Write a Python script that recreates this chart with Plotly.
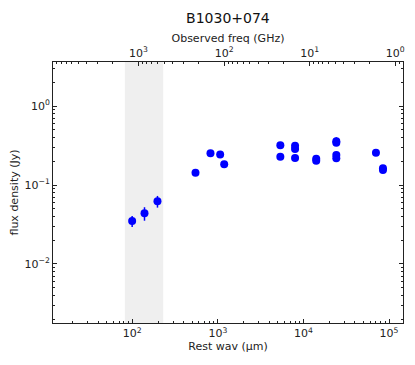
import numpy as np
import plotly.graph_objects as go

# source and band
SOURCE = "B1030+074"
REDSHIFT = 1.535
BAND_WAV = [82, 230]  # rest-frame shaded range (um)

# rest wavelength (um), flux density (Jy), errors (Jy)
rest_wav = [99.7, 139, 197, 548, 820, 1064, 1186,
            5370, 5370, 7980, 7980, 7980, 14100, 14100,
            24200, 24200, 24200, 24200, 70300, 84900, 84900]
flux = [0.035, 0.0438, 0.0622, 0.143, 0.252, 0.244, 0.183,
        0.318, 0.228, 0.315, 0.286, 0.219, 0.215, 0.203,
        0.357, 0.343, 0.240, 0.218, 0.256, 0.163, 0.155]
flux_err = [0.0055, 0.0085, 0.0105, 0.004, 0.008, 0.006, 0.005,
            0.006, 0.005, 0.006, 0.006, 0.005, 0.006, 0.006,
            0.045, 0.02, 0.01, 0.008, 0.006, 0.006, 0.006]

X_RANGE = [10 ** 1.074, 10 ** 5.163]
Y_RANGE = [10 ** -2.747, 10 ** 0.557]

C_UM_GHZ = 3e5  # nu[GHz] = 3e5 / lambda[um]


def sup(n):
    s = str(n).replace("-", "\u2212")
    return f"10<sup>{s}</sup>"


def minor_vals(lo, hi):
    out = []
    for d in range(lo, hi):
        out += [m * 10 ** d for m in range(2, 10)]
    return out


FONT = "DejaVu Sans"
AX_COLOR = "#222222"

obs_freq = [C_UM_GHZ / ((1 + REDSHIFT) * w) for w in rest_wav]

fig = go.Figure()
fig.add_shape(
    type="rect", xref="x", yref="paper",
    x0=BAND_WAV[0], x1=BAND_WAV[1], y0=0, y1=1,
    fillcolor="#efefef", line=dict(width=0), layer="below",
)
fig.add_trace(
    go.Scatter(
        x=rest_wav, y=flux, mode="markers",
        marker=dict(color="#0000ff", size=8),
        error_y=dict(type="data", array=flux_err, color="#0000ff",
                     thickness=1.5, width=0),
        showlegend=False,
    )
)
# invisible trace to anchor the top frequency axis
fig.add_trace(
    go.Scatter(
        x=obs_freq, y=flux, xaxis="x2", mode="markers",
        marker=dict(opacity=0), hoverinfo="skip", showlegend=False,
    )
)

fr_lo = np.log10(C_UM_GHZ / ((1 + REDSHIFT) * X_RANGE[0]))
fr_hi = np.log10(C_UM_GHZ / ((1 + REDSHIFT) * X_RANGE[1]))

common = dict(
    type="log", showgrid=False, zeroline=False, showline=True,
    linecolor=AX_COLOR, linewidth=1, ticks="inside", ticklen=4,
    tickcolor=AX_COLOR, tickfont=dict(size=11, color="#222"),
    automargin=False,
)

# page body adds an 8px offset, so margins are shifted to compensate
fig.update_layout(
    width=415, height=365,
    margin=dict(l=45, r=20, t=54, b=50),
    paper_bgcolor="white", plot_bgcolor="white",
    font=dict(family=FONT, color="#222"),
    title=dict(text=SOURCE, x=0.53, xanchor="center", y=1 - 10 / 365,
               yanchor="middle", yref="container",
               font=dict(size=14, color="#111")),
    xaxis=dict(
        **common,
        range=[np.log10(X_RANGE[0]), np.log10(X_RANGE[1])],
        tickmode="array", tickvals=[1e2, 1e3, 1e4, 1e5],
        ticktext=[sup(k) for k in range(2, 6)],
        minor=dict(ticks="inside", ticklen=2, tickcolor=AX_COLOR,
                   tickmode="array", tickvals=minor_vals(1, 6)),
        title=dict(text="Rest wav (\u03bcm)", font=dict(size=11), standoff=0),
    ),
    xaxis2=dict(
        **common,
        overlaying="x", side="top", anchor="y",
        range=[fr_lo, fr_hi], autorange=False,
        tickmode="array", tickvals=[1e0, 1e1, 1e2, 1e3],
        ticktext=[sup(k) for k in range(0, 4)],
        minor=dict(ticks="inside", ticklen=2, tickcolor=AX_COLOR,
                   tickmode="array", tickvals=minor_vals(-1, 4)),
        title=dict(text="Observed freq (GHz)", font=dict(size=11), standoff=0),
    ),
    yaxis=dict(
        **common,
        mirror="ticks",
        range=[np.log10(Y_RANGE[0]), np.log10(Y_RANGE[1])],
        tickmode="array", tickvals=[1e-2, 1e-1, 1e0],
        ticktext=[sup(k) for k in (-2, -1, 0)],
        minor=dict(ticks="inside", ticklen=2, tickcolor=AX_COLOR,
                   tickmode="array", tickvals=minor_vals(-3, 1)),
        title=dict(text="flux density (Jy)", font=dict(size=11), standoff=4),
    ),
)

fig.write_html("out.html")
